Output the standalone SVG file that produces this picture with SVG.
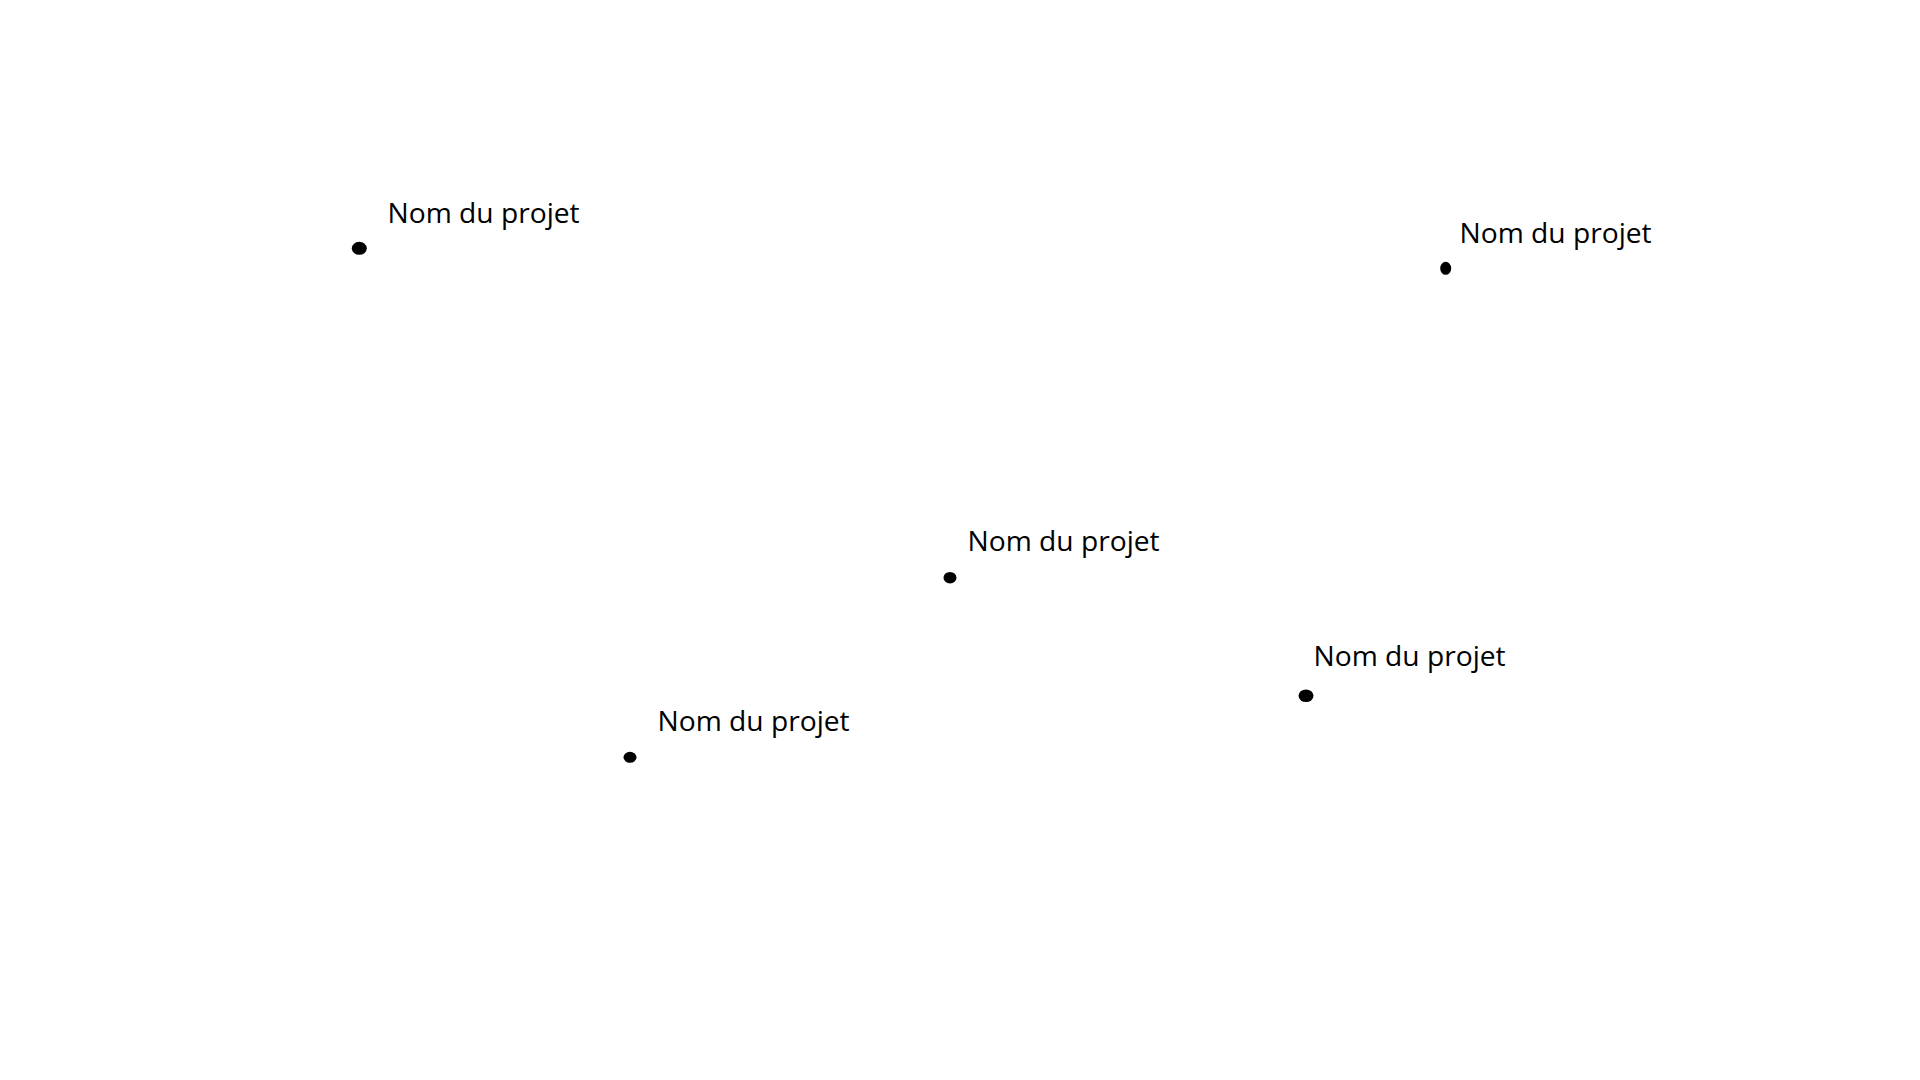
<svg xmlns="http://www.w3.org/2000/svg" width="1920" height="1080" viewBox="0 0 1920 1080">
<style>
.dot{fill:#000}
.lbl{font-family:"Open Sans","Noto Sans","Liberation Sans",sans-serif;font-size:28.2px;fill:#000}
</style>
<rect width="1920" height="1080" fill="#fff"/>
<g id="connectors"/>
<g id="node1"><ellipse class="dot" cx="359.3" cy="248.3" rx="7.5" ry="6.5"/><text class="lbl" x="387.5" y="223">Nom du projet</text></g>
<g id="node2"><ellipse class="dot" cx="1445.7" cy="268.3" rx="5.5" ry="6.5"/><text class="lbl" x="1459.5" y="243">Nom du projet</text></g>
<g id="node3"><ellipse class="dot" cx="950" cy="577.7" rx="6.5" ry="5.8"/><text class="lbl" x="967.5" y="551">Nom du projet</text></g>
<g id="node4"><ellipse class="dot" cx="1306" cy="695.7" rx="7.5" ry="6.3"/><text class="lbl" x="1313.5" y="666">Nom du projet</text></g>
<g id="node5"><ellipse class="dot" cx="630" cy="757.3" rx="6.5" ry="5.5"/><text class="lbl" x="657.5" y="731">Nom du projet</text></g>
</svg>
